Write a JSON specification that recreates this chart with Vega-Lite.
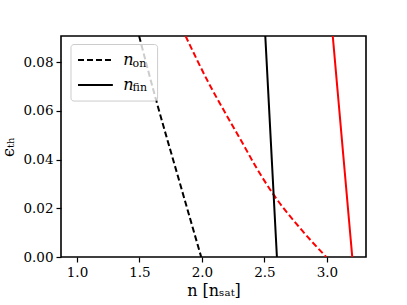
{
  "$schema": "https://vega.github.io/schema/vega-lite/v6.json",
  "width": 305,
  "height": 221,
  "autosize": {"type": "none"},
  "padding": {"left": 61, "top": 36, "right": 41, "bottom": 48},
  "background": "white",
  "config": {
    "view": {"stroke": "black", "strokeWidth": 1.6},
    "axis": {
      "grid": false, "domain": false, "tickColor": "black", "tickSize": 5, "tickWidth": 1.2,
      "labelFont": "DejaVu Serif", "labelFontSize": 13.5, "labelColor": "black", "labelPadding": 3,
      "titleFont": "DejaVu Serif", "titleFontSize": 16, "titleFontWeight": "normal", "titleColor": "black"
    }
  },
  "datasets": {
    "curves": [
      {"series": "on_black", "n": 1.497, "eps": 0.0907},
      {"series": "on_black", "n": 1.630, "eps": 0.0650},
      {"series": "on_black", "n": 1.800, "eps": 0.0345},
      {"series": "on_black", "n": 1.994, "eps": 0.0},
      {"series": "on_red", "n": 1.869, "eps": 0.0907},
      {"series": "on_red", "n": 2.055, "eps": 0.0713},
      {"series": "on_red", "n": 2.188, "eps": 0.0590},
      {"series": "on_red", "n": 2.320, "eps": 0.0472},
      {"series": "on_red", "n": 2.441, "eps": 0.0362},
      {"series": "on_red", "n": 2.573, "eps": 0.0256},
      {"series": "on_red", "n": 2.786, "eps": 0.0118},
      {"series": "on_red", "n": 2.995, "eps": 0.0},
      {"series": "fin_black", "n": 2.507, "eps": 0.0907},
      {"series": "fin_black", "n": 2.600, "eps": 0.0},
      {"series": "fin_red", "n": 3.047, "eps": 0.0907},
      {"series": "fin_red", "n": 3.203, "eps": 0.0}
    ],
    "legendbox": [{"x1": 0.952, "x2": 1.645, "y1": 0.0640, "y2": 0.0872}],
    "legenddashed": [{"x1": 1.008, "x2": 1.287, "y": 0.0808}],
    "legendsolid": [{"x1": 1.008, "x2": 1.287, "y": 0.0706}],
    "legendmain": [
      {"x": 1.37, "y": 0.0808, "t": "n"},
      {"x": 1.37, "y": 0.0706, "t": "n"}
    ],
    "legendsub": [
      {"x": 1.445, "y": 0.0794, "t": "on"},
      {"x": 1.445, "y": 0.0692, "t": "fin"}
    ]
  },
  "layer": [
    {
      "data": {"name": "curves"},
      "mark": {"type": "line", "strokeWidth": 2, "clip": true, "interpolate": "monotone"},
      "encoding": {
        "x": {"field": "n", "type": "quantitative",
              "scale": {"domain": [0.872, 3.313], "nice": false, "zero": false},
              "axis": {"values": [1.0, 1.5, 2.0, 2.5, 3.0], "format": ".1f", "title": "n [nₛₐₜ]", "titlePadding": 4}},
        "y": {"field": "eps", "type": "quantitative",
              "scale": {"domain": [0, 0.0907], "nice": false},
              "axis": {"values": [0, 0.02, 0.04, 0.06, 0.08], "format": ".2f", "title": "ϵₜₕ", "titlePadding": 6}},
        "detail": {"field": "series"},
        "color": {"field": "series", "type": "nominal", "legend": null,
                  "scale": {"domain": ["on_black", "on_red", "fin_black", "fin_red"], "range": ["#000000", "#ff0000", "#000000", "#ff0000"]}},
        "strokeDash": {"field": "series", "type": "nominal", "legend": null,
                  "scale": {"domain": ["on_black", "on_red", "fin_black", "fin_red"], "range": [[6, 3], [6, 3], [1, 0], [1, 0]]}}
      }
    },
    {
      "data": {"name": "legendbox"},
      "mark": {"type": "rect", "fill": "white", "fillOpacity": 0.8, "stroke": "#cccccc", "strokeWidth": 1, "cornerRadius": 3},
      "encoding": {
        "x": {"field": "x1", "type": "quantitative"},
        "x2": {"field": "x2"},
        "y": {"field": "y1", "type": "quantitative"},
        "y2": {"field": "y2"}
      }
    },
    {
      "data": {"name": "legenddashed"},
      "mark": {"type": "rule", "strokeWidth": 2, "color": "black", "strokeDash": [6, 3]},
      "encoding": {
        "x": {"field": "x1", "type": "quantitative"},
        "x2": {"field": "x2"},
        "y": {"field": "y", "type": "quantitative"}
      }
    },
    {
      "data": {"name": "legendsolid"},
      "mark": {"type": "rule", "strokeWidth": 2, "color": "black"},
      "encoding": {
        "x": {"field": "x1", "type": "quantitative"},
        "x2": {"field": "x2"},
        "y": {"field": "y", "type": "quantitative"}
      }
    },
    {
      "data": {"name": "legendmain"},
      "mark": {"type": "text", "font": "DejaVu Serif", "fontStyle": "italic", "fontSize": 16, "align": "left", "baseline": "middle", "color": "black"},
      "encoding": {
        "x": {"field": "x", "type": "quantitative"},
        "y": {"field": "y", "type": "quantitative"},
        "text": {"field": "t"}
      }
    },
    {
      "data": {"name": "legendsub"},
      "mark": {"type": "text", "font": "DejaVu Serif", "fontSize": 11, "align": "left", "baseline": "middle", "color": "black"},
      "encoding": {
        "x": {"field": "x", "type": "quantitative"},
        "y": {"field": "y", "type": "quantitative"},
        "text": {"field": "t"}
      }
    }
  ]
}
